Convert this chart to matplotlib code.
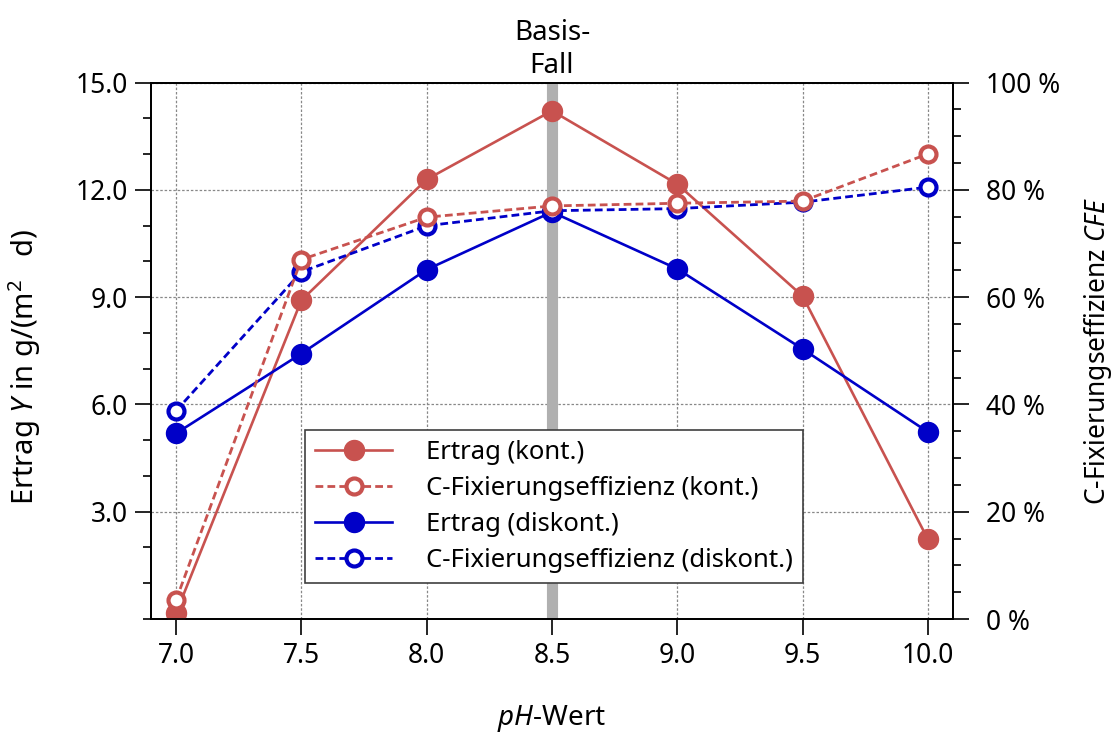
import matplotlib
matplotlib.use('Agg')
import matplotlib.pyplot as plt
from matplotlib.ticker import MultipleLocator, FuncFormatter, FormatStrFormatter
from matplotlib.lines import Line2D

plt.rcParams['font.family'] = ['Noto Sans', 'DejaVu Sans']
plt.rcParams['mathtext.fontset'] = 'custom'
plt.rcParams['mathtext.rm'] = 'Noto Sans'
plt.rcParams['mathtext.it'] = 'Noto Sans:italic'

# data
ph = [7.0, 7.5, 8.0, 8.5, 9.0, 9.5, 10.0]
ertrag_kont = [0.16, 8.91, 12.29, 14.21, 12.16, 9.03, 2.23]
cfe_kont = [3.5, 67.0, 74.9, 77.0, 77.5, 77.9, 86.7]
ertrag_diskont = [5.19, 7.42, 9.77, 11.38, 9.79, 7.55, 5.23]
cfe_diskont = [38.8, 64.7, 73.3, 76.1, 76.5, 77.7, 80.5]
base_case = 8.5

red = '#C8524F'
blue = '#0000C8'

fig = plt.figure(figsize=(11.19, 7.37), dpi=100)
ax1 = fig.add_axes([0.1349, 0.1601, 0.8516 - 0.1349, 0.888 - 0.1601])
ax2 = ax1.twinx()

# base case marker
ax1.axvline(base_case, color='#b0b0b0', lw=8, zorder=1)

filled = dict(marker='o', markersize=14.4, lw=1.9)
hollow = dict(marker='o', markersize=11.5, markerfacecolor='white', markeredgewidth=3, lw=2.0, ls=(0, (2.8, 1.5)))

ax1.plot(ph, ertrag_kont, color=red, zorder=3, **filled)
ax1.plot(ph, ertrag_diskont, color=blue, zorder=3, **filled)
ax2.plot(ph, cfe_diskont, color=blue, zorder=3, **hollow)
ax2.plot(ph, cfe_kont, color=red, zorder=4, **hollow)

ax1.set_xlim(6.9, 10.1)
ax1.set_ylim(0, 15)
ax2.set_ylim(0, 100)

ax1.set_xticks(ph)
ax1.xaxis.set_major_formatter(FormatStrFormatter('%.1f'))
ax1.set_yticks([3, 6, 9, 12, 15])
ax1.yaxis.set_minor_locator(MultipleLocator(1))
ax1.yaxis.set_major_formatter(FormatStrFormatter('%.1f'))
ax2.yaxis.set_major_locator(MultipleLocator(20))
ax2.yaxis.set_minor_locator(MultipleLocator(5))
ax2.yaxis.set_major_formatter(FuncFormatter(lambda v, p: f'{v:.0f} %'))

for ax in (ax1, ax2):
    ax.tick_params(which='major', direction='out', length=11.5, width=1.2, labelsize=19, pad=5)
    ax.tick_params(which='minor', direction='out', length=5.8, width=1.2)
    for s in ax.spines.values():
        s.set_linewidth(1.3)
ax2.tick_params(which='major', pad=12)

ax1.grid(True, which='major', color='#888888', ls=(0, (2, 1.5)), lw=0.9)
ax1.set_axisbelow(True)

ax1.set_xlabel(r'$\mathit{pH}$-Wert', fontsize=20, labelpad=24)
ax1.set_ylabel(r'Ertrag $\mathit{Y}$ in g/(m$^{2}$   d)', fontsize=21)
ax1.yaxis.set_label_coords(-0.135, 0.47)
ax2.set_ylabel(r'C-Fixierungseffizienz $\mathit{CFE}$', fontsize=19, labelpad=16)

ax1.text(base_case, 1.005, 'Basis-\nFall', transform=ax1.get_xaxis_transform(),
         ha='center', va='bottom', fontsize=20, linespacing=1.25)

handles = [
    Line2D([], [], color=red, **filled),
    Line2D([], [], color=red, **hollow),
    Line2D([], [], color=blue, **filled),
    Line2D([], [], color=blue, **hollow),
]
labels = ['Ertrag (kont.)', 'C-Fixierungseffizienz (kont.)',
          'Ertrag (diskont.)', 'C-Fixierungseffizienz (diskont.)']
leg = ax2.legend(handles, labels, loc='lower left', bbox_to_anchor=(0.192, 0.067),
                 borderaxespad=0, fontsize=18.5, fancybox=False, framealpha=1,
                 edgecolor='#404040', handlelength=3.0, handletextpad=1.3,
                 labelspacing=0.42, borderpad=0.4)
leg.get_frame().set_linewidth(1.2)
leg.set_zorder(10)

fig.savefig('out.png', dpi=100)
